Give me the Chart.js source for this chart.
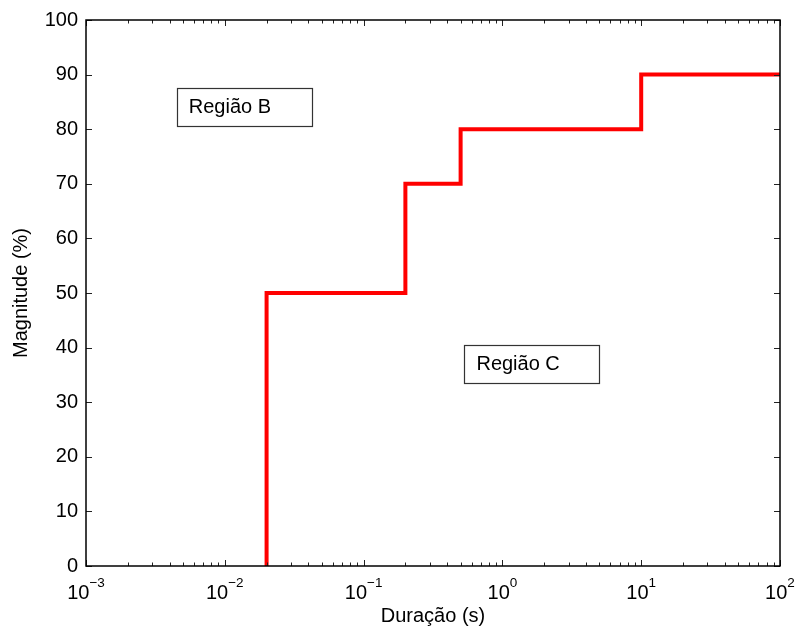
<!DOCTYPE html>
<html>
<head>
<meta charset="utf-8">
<script src="https://cdn.jsdelivr.net/npm/chart.js@4/dist/chart.umd.min.js"></script>
<style>
  body { margin: 0; background: #fff; }
  #wrap { width: 796px; height: 631px; }
</style>
</head>
<body>
<div id="wrap"><canvas id="curve"></canvas></div>
<script>
// step curve: vertical at each duration, then flat to the next one
const durations = [0.02, 0.2, 0.5, 10, 100];
const magnitudes = [0, 50, 70, 80, 90];

// axis ticks
const yTicks = [0, 10, 20, 30, 40, 50, 60, 70, 80, 90, 100];
const xDecades = [-3, -2, -1, 0, 1, 2];

// region labels (data coords of text left / middle)
const regionLabels = ['Região B', 'Região C'];
const regionX = [0.0055, 0.65];
const regionY = [84.2, 37.1];

const FONT = '"Liberation Sans", Arial, Helvetica, sans-serif';

// draws the box, tick marks, decade labels and region boxes
const matlabAxes = {
    id: 'matlabAxes',
    afterDatasetsDraw(chart) {
        const ctx = chart.ctx;
        const xs = chart.scales.x;
        const ys = chart.scales.y;
        const a = chart.chartArea;
        ctx.save();

        // ticks, inward on both sides
        ctx.strokeStyle = '#222';
        ctx.lineWidth = 1;
        ctx.beginPath();
        yTicks.forEach(v => {
            const py = Math.round(ys.getPixelForValue(v)) + 0.5;
            ctx.moveTo(a.left, py); ctx.lineTo(a.left + 6, py);
            ctx.moveTo(a.right, py); ctx.lineTo(a.right - 6, py);
        });
        xDecades.forEach(d => {
            const px = Math.round(xs.getPixelForValue(Math.pow(10, d))) + 0.5;
            ctx.moveTo(px, a.bottom); ctx.lineTo(px, a.bottom - 6);
            ctx.moveTo(px, a.top); ctx.lineTo(px, a.top + 6);
            if (d < 2) {
                for (let k = 2; k <= 9; k++) {
                    const mx = Math.round(xs.getPixelForValue(k * Math.pow(10, d))) + 0.5;
                    ctx.moveTo(mx, a.bottom); ctx.lineTo(mx, a.bottom - 3.5);
                    ctx.moveTo(mx, a.top); ctx.lineTo(mx, a.top + 3.5);
                }
            }
        });
        ctx.stroke();

        // axes box
        ctx.strokeStyle = '#000';
        ctx.lineWidth = 1.5;
        ctx.strokeRect(a.left, a.top, a.right - a.left, a.bottom - a.top);

        // x tick labels 10^n
        ctx.fillStyle = '#000';
        ctx.textBaseline = 'alphabetic';
        xDecades.forEach(d => {
            const px = xs.getPixelForValue(Math.pow(10, d));
            const exp = d < 0 ? '\u2212' + (-d) : String(d);
            ctx.font = '20px ' + FONT;
            const wb = ctx.measureText('10').width;
            ctx.font = '13.5px ' + FONT;
            const we = ctx.measureText(exp).width;
            const x0 = px - (wb + we) / 2;
            ctx.textAlign = 'left';
            ctx.font = '20px ' + FONT;
            ctx.fillText('10', x0, 599);
            ctx.font = '13.5px ' + FONT;
            ctx.fillText(exp, x0 + wb, 587);
        });

        // region boxes
        ctx.font = '20px ' + FONT;
        ctx.textAlign = 'left';
        ctx.textBaseline = 'middle';
        regionLabels.forEach((t, i) => {
            const tx = xs.getPixelForValue(regionX[i]);
            const ty = ys.getPixelForValue(regionY[i]);
            ctx.fillStyle = '#fff';
            ctx.fillRect(tx - 12, ty - 18.5, 136, 38);
            ctx.strokeStyle = '#333';
            ctx.lineWidth = 1.2;
            ctx.strokeRect(Math.round(tx - 12) + 0.5, Math.round(ty - 18.5) + 0.5, 135, 38);
            ctx.fillStyle = '#000';
            ctx.fillText(t, tx, ty + 1);
        });

        ctx.restore();
    }
};

new Chart(document.getElementById('curve'), {
    type: 'line',
    data: {
        datasets: [{
            data: durations.map((d, i) => ({ x: d, y: magnitudes[i] })),
            stepped: 'after',
            borderColor: '#ff0000',
            borderWidth: 4,
            pointRadius: 0,
            fill: false,
            borderCapStyle: 'butt',
            borderJoinStyle: 'miter'
        }]
    },
    options: {
        responsive: true,
        maintainAspectRatio: false,
        animation: false,
        layout: { padding: { top: 18, right: 16, left: 0, bottom: 0 } },
        plugins: {
            legend: { display: false },
            tooltip: { enabled: false }
        },
        scales: {
            x: {
                type: 'logarithmic',
                min: 0.001,
                max: 100,
                grid: { display: false, drawTicks: false },
                border: { display: false },
                ticks: { display: false },
                title: {
                    display: true,
                    text: 'Duração (s)',
                    color: '#000',
                    font: { family: FONT, size: 20 },
                    padding: { top: 0, bottom: 3 }
                },
                afterFit(s) { s.height = 65; }
            },
            y: {
                min: 0,
                max: 100,
                grid: { display: false, drawTicks: false },
                border: { display: false },
                ticks: {
                    stepSize: 10,
                    padding: 8,
                    color: '#000',
                    font: { family: FONT, size: 20 }
                },
                title: {
                    display: true,
                    text: 'Magnitude (%)',
                    color: '#000',
                    font: { family: FONT, size: 20 },
                    padding: { top: 9, bottom: 0 }
                },
                afterFit(s) { s.width = 86; }
            }
        }
    },
    plugins: [matlabAxes]
});
</script>
</body>
</html>
